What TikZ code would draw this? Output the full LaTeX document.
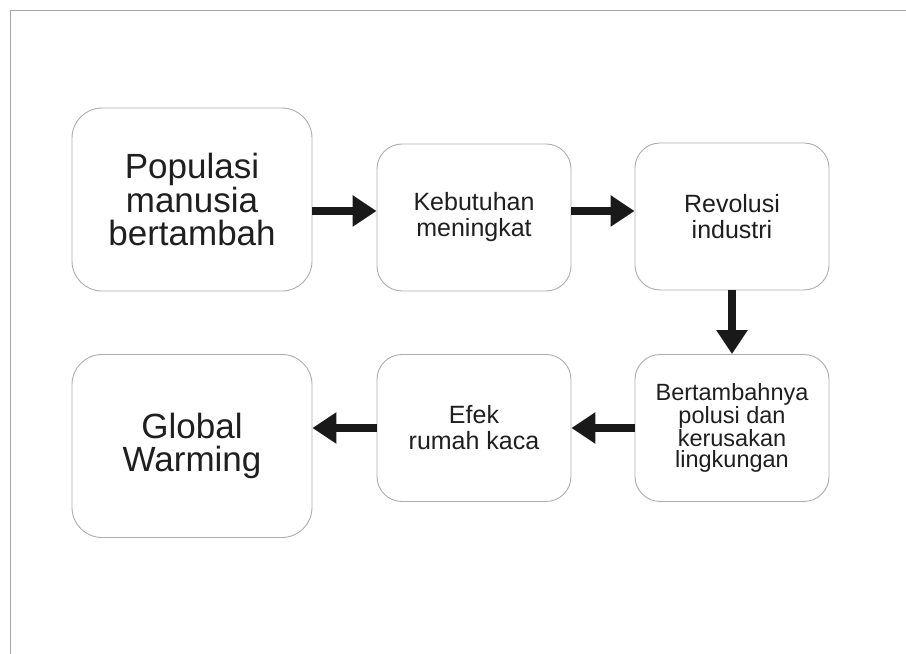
\documentclass[tikz,border=0pt]{standalone}
\usepackage{fontspec}
\setmainfont{Liberation Sans}
\usetikzlibrary{arrows.meta}

\begin{document}
\begin{tikzpicture}[x=1pt,y=1pt]
\tikzset{box/.style = {shape=rectangle,draw=black!32,line width=0.9pt,fill=white,rounded corners=25pt,align=center,inner sep=0pt,text=black!88,minimum width=194pt,minimum height=147pt,font=\fontsize{25}{26}\selectfont}}
\tikzset{bigbox/.style = {box,minimum width=240pt,minimum height=183pt,rounded corners=30pt,font=\fontsize{35}{32.5}\selectfont}}
\tikzset{edge/.style = {-{Triangle[length=24pt,width=30pt]},line width=8pt,draw=black!90}}
\useasboundingbox (0,0) rectangle (906,654);
\draw[black!35,line width=1pt] (906,643.5) -- (10.5,643.5) -- (10.5,0);
\node[bigbox] (b_0_1) at (192,454.5) {Populasi\\manusia\\bertambah};
\node[box] (b_0_2) at (474,436.5) {Kebutuhan\\meningkat};
\node[box] (b_0_3) at (732,437.5) {Revolusi\\industri};
\node[box,font=\fontsize{23.5}{21.5}\selectfont] (b_1_3) at (732,226) {Bertambahnya\\polusi dan\\kerusakan\\lingkungan};
\node[box] (b_1_2) at (474,226) {Efek\\rumah kaca};
\node[bigbox] (b_1_1) at (192,208) {Global\\Warming};
\draw[edge] ([yshift=6.5pt]b_0_2.west -| b_0_1.east) to ([yshift=6.5pt]b_0_2.west);
\draw[edge] ([yshift=6.5pt]b_0_2.east) to ([yshift=6.5pt]b_0_2.east -| b_0_3.west);
\draw[edge] (b_0_3.south) to (b_1_3.north);
\draw[edge] (b_1_3.west) to (b_1_2.east);
\draw[edge] (b_1_2.west) to (b_1_2.west -| b_1_1.east);
\end{tikzpicture}
\end{document}
